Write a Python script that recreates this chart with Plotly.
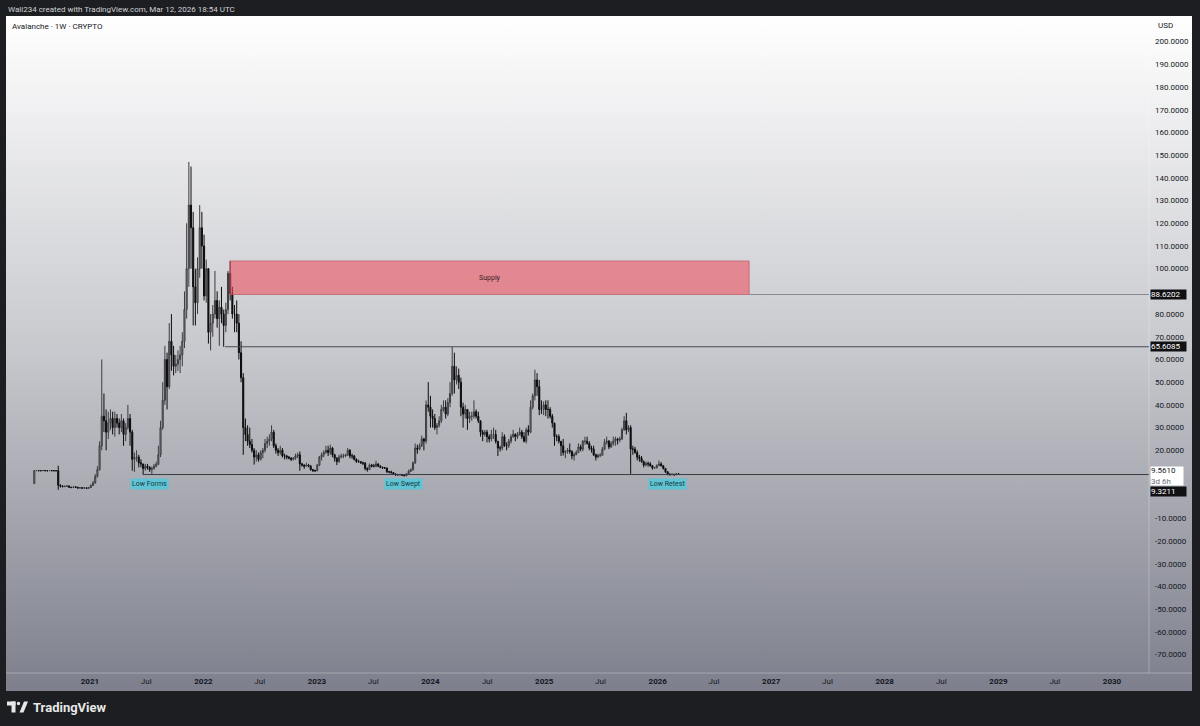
import base64
import plotly.graph_objects as go
import pandas as pd

# weekly candles (Monday opens), AVAX, first bar 2020-07-06
first_week = "2020-07-06"
first_open = 5.3

closes = [
    11.0, 11.1, 11.0, 11.0,                 # 2020 Jul
    11.1, 11.0, 11.0, 11.1, 11.0,           # Aug
    11.0, 11.0, 4.6, 4.2,                   # Sep
    4.0, 4.1, 4.3, 3.7,                     # Oct
    3.6, 3.9, 3.7, 3.4, 3.5,                # Nov
    3.3, 3.5, 3.2, 3.6,                     # Dec
    4.5, 5.6, 8.5, 11.5,                    # 2021 Jan
    22.0, 35.0, 33.0, 28.0,                 # Feb
    32.0, 34.0, 30.0, 34.0, 32.0,           # Mar
    30.0, 33.0, 27.0, 30.0,                 # Apr
    34.0, 28.0, 16.0, 17.0, 17.0,           # May
    14.5, 14.0, 12.0, 13.0,                 # Jun
    12.5, 11.5, 12.0, 13.0,                 # Jul
    13.8, 18.0, 30.0, 42.0, 60.0,           # Aug
    48.0, 68.0, 62.0, 57.0,                 # Sep
    58.0, 60.0, 62.0, 68.0,                 # Oct
    82.0, 100.0, 128.0, 118.0, 92.0,        # Nov
    85.0, 100.0, 118.0, 110.0,              # Dec
    88.0, 100.0, 72.0, 76.0, 80.0,          # 2022 Jan
    86.0, 78.0, 83.0, 80.0,                 # Feb
    75.0, 82.0, 98.0, 89.0,                 # Mar
    80.0, 80.0, 76.0, 63.0,                 # Apr
    52.0, 30.0, 27.0, 24.0, 22.5,           # May
    20.0, 17.0, 18.0, 16.0,                 # Jun
    19.0, 20.0, 23.0, 24.0,                 # Jul
    25.0, 28.0, 22.0, 20.0, 19.0,           # Aug
    20.0, 17.5, 17.5, 17.0,                 # Sep
    16.5, 16.0, 16.5, 17.5, 18.0,           # Oct
    14.0, 13.5, 13.0, 13.5,                 # Nov
    13.0, 11.5, 11.0, 11.0,                 # Dec
    13.5, 17.0, 18.0, 19.0, 20.0,           # 2023 Jan
    19.0, 21.0, 18.0, 16.5,                 # Feb
    15.0, 17.0, 17.5, 17.5,                 # Mar
    18.0, 20.0, 17.5, 17.5,                 # Apr
    16.0, 15.0, 15.0, 14.5, 14.3,           # May
    12.0, 11.5, 13.5, 13.0,                 # Jun
    13.0, 14.0, 13.0, 12.5, 12.2,           # Jul
    12.2, 10.6, 10.5, 10.2,                 # Aug
    9.6, 9.3, 9.2, 9.3,                     # Sep
    9.0, 8.8, 9.6, 10.8, 11.5,              # Oct
    14.5, 21.0, 20.5, 22.0,                 # Nov
    25.0, 24.0, 40.0, 39.0,                 # Dec
    35.0, 34.0, 30.0, 31.0, 33.0,           # 2024 Jan
    38.0, 39.0, 36.0, 41.0,                 # Feb
    45.0, 57.0, 51.0, 53.0,                 # Mar
    50.0, 39.0, 36.0, 38.0, 34.0,           # Apr
    35.0, 35.0, 37.0, 35.0,                 # May
    33.0, 28.0, 27.0, 28.0,                 # Jun
    26.0, 25.0, 27.0, 27.0, 24.0,           # Jul
    21.0, 21.0, 26.0, 22.0,                 # Aug
    22.0, 24.0, 26.0, 27.0, 26.0,           # Sep
    27.0, 28.0, 26.0, 24.0,                 # Oct
    29.0, 28.0, 39.0, 44.0,                 # Nov
    51.0, 48.0, 38.0, 38.0, 40.0,           # Dec
    38.0, 38.0, 35.0, 32.0,                 # 2025 Jan
    26.0, 26.0, 24.0, 22.0,                 # Feb
    19.0, 19.5, 20.0, 19.5, 17.5,           # Mar
    18.0, 19.0, 21.5, 20.5,                 # Apr
    24.0, 24.0, 23.0, 21.0,                 # May
    20.5, 18.0, 17.0, 17.8, 17.8,           # Jun
    20.5, 23.5, 24.0, 21.5,                 # Jul
    23.0, 24.0, 25.0, 24.5,                 # Aug
    25.0, 29.0, 33.0, 29.0, 30.0,           # Sep
    20.5, 20.5, 19.0, 17.0,                 # Oct
    16.5, 15.0, 13.5, 14.2,                 # Nov
    14.0, 13.2, 12.2, 12.3, 13.3,           # Dec
    14.0, 13.2, 12.0, 10.5,                 # 2026 Jan
    9.5, 9.3, 9.4, 9.2,                     # Feb
    9.6, 9.561,                             # Mar
]

highs = [
    11.2, 11.3, 11.2, 11.2,
    11.3, 11.2, 11.2, 11.3, 11.2,
    11.2, 11.2, 13.2, 5.0,
    4.6, 4.5, 4.6, 4.4,
    3.9, 4.2, 4.1, 3.9, 3.8,
    3.7, 3.8, 3.6, 3.8,
    5.0, 6.5, 9.5, 13.0,
    24.0, 60.0, 45.0, 38.0,
    37.0, 38.0, 37.0, 37.0, 36.0,
    34.0, 36.0, 34.0, 32.0,
    40.0, 36.0, 29.0, 19.0, 20.0,
    18.0, 16.0, 14.0, 14.0,
    14.0, 13.0, 12.8, 14.0,
    15.0, 22.0, 33.0, 50.0, 66.0,
    63.0, 76.0, 80.0, 66.0,
    62.0, 64.0, 66.0, 72.0,
    90.0, 120.0, 147.0, 145.0, 125.0,
    100.0, 105.0, 128.0, 125.0,
    115.0, 104.0, 98.0, 80.0, 84.0,
    99.0, 90.0, 86.0, 92.0,
    82.0, 85.0, 99.0, 103.4,
    92.0, 84.0, 86.0, 80.0,
    68.0, 54.0, 34.0, 31.0, 30.0,
    25.0, 21.0, 20.0, 19.0,
    20.0, 21.0, 25.0, 26.0,
    27.0, 31.0, 29.0, 23.0, 21.0,
    22.0, 21.0, 18.5, 18.0,
    17.5, 17.0, 17.0, 18.5, 19.0,
    19.5, 14.5, 13.8, 14.5,
    14.0, 13.5, 11.8, 11.5,
    14.0, 17.5, 19.0, 20.0, 22.0,
    22.0, 22.5, 21.5, 18.5,
    17.0, 18.0, 18.5, 18.5,
    18.5, 21.0, 20.5, 18.5,
    18.0, 16.5, 15.8, 15.2, 15.0,
    14.8, 12.5, 14.2, 14.0,
    14.0, 15.4, 14.2, 13.4, 12.8,
    12.7, 12.4, 10.9, 11.0,
    10.2, 9.8, 9.6, 9.7,
    9.6, 9.2, 9.9, 11.5, 12.0,
    15.0, 23.0, 22.5, 23.0,
    26.5, 25.5, 42.0, 50.0,
    44.0, 38.0, 36.0, 32.0, 35.0,
    40.0, 42.0, 42.0, 43.0,
    50.0, 65.5, 63.0, 57.0,
    56.0, 52.0, 41.0, 40.0, 38.0,
    37.0, 37.0, 42.0, 38.0,
    37.0, 33.0, 29.0, 29.0,
    29.0, 27.0, 29.0, 30.0, 29.0,
    24.0, 22.0, 28.0, 27.0,
    23.5, 25.0, 27.0, 29.0, 27.5,
    28.0, 30.0, 29.0, 28.0,
    30.0, 31.0, 42.0, 45.0,
    55.5, 54.0, 51.0, 42.0, 41.5,
    42.0, 42.0, 39.0, 36.0,
    28.0, 27.0, 27.0, 24.0,
    25.0, 20.0, 21.0, 23.0, 20.0,
    19.0, 20.0, 23.0, 22.5,
    24.5, 26.0, 26.0, 24.0,
    22.0, 22.0, 18.5, 18.5, 18.7,
    21.5, 25.0, 26.0, 24.5,
    24.0, 26.0, 26.0, 25.5,
    26.0, 30.0, 35.0, 36.5, 31.0,
    31.0, 22.0, 21.5, 20.0,
    18.0, 17.5, 15.5, 15.0,
    15.0, 14.8, 13.4, 12.7, 13.8,
    15.5, 14.8, 13.5, 12.2,
    10.8, 9.9, 9.8, 9.7,
    10.0, 9.8,
]

lows = [
    5.3, 10.9, 10.8, 10.9,
    10.9, 10.8, 10.8, 10.9, 10.8,
    10.8, 10.8, 2.6, 3.6,
    3.7, 3.8, 3.9, 3.5,
    3.3, 3.5, 3.4, 3.1, 3.2,
    3.1, 3.2, 2.9, 3.1,
    3.4, 4.3, 5.3, 8.0,
    11.0, 20.0, 28.0, 20.0,
    25.0, 29.0, 27.0, 26.0, 30.0,
    27.0, 28.0, 22.0, 24.0,
    29.0, 22.0, 11.0, 10.5, 15.0,
    12.5, 12.5, 9.5, 11.0,
    11.5, 10.5, 9.4, 11.5,
    12.5, 13.5, 17.0, 29.0, 40.0,
    38.0, 47.0, 55.0, 53.0,
    54.0, 55.0, 54.0, 57.0,
    65.0, 78.0, 92.0, 100.0, 75.0,
    75.0, 80.0, 96.0, 100.0,
    86.0, 85.0, 67.0, 64.0, 70.0,
    78.0, 74.0, 66.0, 76.0,
    65.6, 72.0, 80.0, 86.0,
    78.0, 72.0, 72.0, 60.0,
    50.0, 18.0, 24.0, 22.0, 21.0,
    19.0, 13.7, 15.0, 15.0,
    15.5, 16.5, 19.0, 21.0,
    22.0, 24.0, 21.0, 18.5, 17.5,
    18.0, 16.8, 16.0, 16.0,
    16.0, 15.3, 15.5, 15.8, 16.5,
    11.0, 12.8, 11.8, 12.8,
    12.5, 11.0, 10.5, 10.5,
    10.8, 13.0, 15.5, 17.0, 18.5,
    17.5, 18.0, 17.0, 15.0,
    13.5, 14.5, 16.5, 16.5,
    17.0, 17.5, 16.5, 16.2,
    15.5, 14.5, 14.5, 14.0, 13.5,
    11.2, 10.6, 11.3, 12.5,
    12.5, 12.5, 12.6, 12.1, 11.8,
    11.8, 10.0, 9.8, 9.7,
    9.2, 8.7, 8.8, 8.9,
    8.7, 8.6, 8.6, 9.4, 10.4,
    11.0, 14.0, 18.5, 20.0,
    21.5, 20.0, 23.0, 37.0,
    30.0, 30.0, 29.0, 27.0, 30.0,
    32.0, 37.0, 34.0, 35.0,
    39.0, 44.0, 45.0, 49.0,
    47.0, 35.0, 30.0, 34.0, 29.0,
    32.0, 33.0, 34.0, 34.0,
    32.0, 26.0, 24.0, 26.0,
    23.5, 23.5, 24.0, 25.0, 23.0,
    17.5, 19.5, 20.0, 21.5,
    20.0, 21.0, 23.0, 25.5, 24.0,
    25.0, 26.5, 25.0, 23.5,
    23.0, 26.5, 27.5, 38.0,
    42.0, 44.0, 35.5, 36.0, 35.5,
    35.0, 34.0, 34.0, 30.0,
    22.0, 24.0, 23.0, 17.5,
    17.7, 16.5, 18.5, 18.5, 16.0,
    15.5, 18.0, 19.0, 19.6,
    19.5, 22.5, 22.5, 20.0,
    19.0, 17.5, 15.5, 16.5, 17.0,
    17.7, 20.0, 22.5, 20.5,
    21.0, 22.0, 22.0, 22.5,
    23.5, 24.5, 28.5, 27.0, 28.0,
    9.6, 18.0, 18.5, 15.5,
    15.0, 14.5, 12.5, 13.0,
    12.8, 12.8, 11.5, 11.8, 12.0,
    13.0, 12.8, 11.5, 10.0,
    9.0, 8.8, 9.0, 8.9,
    9.1, 9.3,
]

# drawings
supply_low, supply_high = 88.6202, 103.4
supply_start, supply_end = "2022-03-27", "2026-10-22"
level_mid = 65.6085
level_mid_start = "2022-03-11"
level_low = 9.3211
level_low_start = "2021-06-20"
last_price = 9.5610
low_notes = [("2021-07-10", "Low Forms"), ("2023-10-05", "Low Swept"), ("2026-01-31", "Low Retest")]

price_ticks = [200, 190, 180, 170, 160, 150, 140, 130, 120, 110, 100, 80, 70, 60, 50,
               40, 30, 20, -10, -20, -30, -40, -50, -60, -70]
time_ticks = ["2021-01-01", "2021-07-01", "2022-01-01", "2022-07-01", "2023-01-01", "2023-07-01",
              "2024-01-01", "2024-07-01", "2025-01-01", "2025-07-01", "2026-01-01", "2026-07-01",
              "2027-01-01", "2027-07-01", "2028-01-01", "2028-07-01", "2029-01-01", "2029-07-01",
              "2030-01-01"]
time_labels = ["2021", "Jul", "2022", "Jul", "2023", "Jul", "2024", "Jul", "2025", "Jul",
               "2026", "Jul", "2027", "Jul", "2028", "Jul", "2029", "Jul", "2030"]

dates = pd.date_range(first_week, periods=len(closes), freq="7D")
opens = [first_open] + closes[:-1]

# plot area in pixels: x 6..1149, y 16..673
L, R, T, B = 6, 1149, 16, 673
W, H = 1200, 726


def px(x):
    return (x - L) / (R - L)


def py(y):
    return (B - y) / (B - T)


FONT = "Roboto, Arial, sans-serif"
DARK = "#131722"

fig = go.Figure()

fig.add_trace(go.Candlestick(
    x=dates, open=opens, high=highs, low=lows, close=closes,
    increasing=dict(line=dict(color="#3c3c40", width=1), fillcolor="#8e8f95"),
    decreasing=dict(line=dict(color="#0c0c0c", width=1), fillcolor="#0c0c0c"),
    whiskerwidth=0, showlegend=False, hoverinfo="skip",
))

# background gradient of the chart panel
svg = ('<svg xmlns="http://www.w3.org/2000/svg" width="10" height="100" viewBox="0 0 10 100" '
       'preserveAspectRatio="none"><defs><linearGradient id="g" x1="0" y1="0" x2="0" y2="1">'
       '<stop offset="0" stop-color="#ffffff"/><stop offset="0.5" stop-color="#c7c8cd"/>'
       '<stop offset="1" stop-color="#7d7f8c"/></linearGradient></defs>'
       '<rect width="10" height="100" fill="url(#g)"/></svg>')
src = "data:image/svg+xml;base64," + base64.b64encode(svg.encode()).decode()
fig.add_layout_image(dict(
    source=src, xref="paper", yref="paper", x=0, y=1,
    sizex=px(1192), sizey=(691 - T) / (B - T), xanchor="left", yanchor="top",
    sizing="stretch", layer="below",
))

shapes = []
# supply zone
shapes.append(dict(type="rect", xref="x", yref="y", x0=supply_start, x1=supply_end,
                   y0=supply_low, y1=supply_high, fillcolor="rgba(238,72,88,0.55)",
                   line=dict(color="rgba(190,90,100,0.7)", width=1), layer="above"))
shapes.append(dict(type="line", xref="x", yref="y", x0=supply_end, x1="2030-04-30",
                   y0=supply_low, y1=supply_low, line=dict(color="#8a8b92", width=1)))
shapes.append(dict(type="line", xref="x", yref="y", x0=level_mid_start, x1="2030-04-30",
                   y0=level_mid, y1=level_mid, line=dict(color="#4a4b52", width=1)))
shapes.append(dict(type="line", xref="x", yref="y", x0=level_low_start, x1="2030-04-30",
                   y0=level_low, y1=level_low, line=dict(color="#3a3b42", width=1)))
# axis separators
shapes.append(dict(type="line", xref="paper", yref="paper", x0=1, x1=1, y0=0, y1=1,
                   line=dict(color="rgba(255,255,255,0.28)", width=1)))
shapes.append(dict(type="line", xref="paper", yref="paper", x0=0, x1=px(1192), y0=0, y1=0,
                   line=dict(color="rgba(255,255,255,0.28)", width=1)))
# TradingView logo mark
shapes.append(dict(type="rect", xref="paper", yref="paper", x0=px(7), x1=px(15.5),
                   y0=py(705.5), y1=py(701.5), fillcolor="#e8e8e8", line=dict(width=0)))
shapes.append(dict(type="rect", xref="paper", yref="paper", x0=px(11.5), x1=px(15.5),
                   y0=py(712.5), y1=py(701.5), fillcolor="#e8e8e8", line=dict(width=0)))
shapes.append(dict(type="circle", xref="paper", yref="paper", x0=px(16.8), x1=px(20.2),
                   y0=py(705.2), y1=py(701.8), fillcolor="#e8e8e8", line=dict(width=0)))
shapes.append(dict(type="path", xref="paper", yref="paper",
                   path=f"M {px(19.5)},{py(712.5)} L {px(23.5)},{py(712.5)} L {px(28)},{py(701.5)} "
                        f"L {px(24)},{py(701.5)} Z",
                   fillcolor="#e8e8e8", line=dict(width=0)))

ann = []
ann.append(dict(xref="paper", yref="paper", x=0, y=py(9), xanchor="left", yanchor="middle",
                text="Wali234 created with TradingView.com, Mar 12, 2026 18:54 UTC",
                showarrow=False, font=dict(family=FONT, size=8, color="#cfd1d6")))
ann.append(dict(xref="paper", yref="paper", x=px(10), y=py(26), xanchor="left", yanchor="middle",
                text="Avalanche · 1W · CRYPTO", showarrow=False,
                font=dict(family=FONT, size=8, color=DARK)))
ann.append(dict(xref="paper", yref="paper", x=px(1156), y=py(25), xanchor="left", yanchor="middle",
                text="USD", showarrow=False, font=dict(family=FONT, size=8, color=DARK)))
ann.append(dict(xref="x", yref="y", x="2024-07-10", y=(supply_low + supply_high) / 2,
                text="Supply", showarrow=False, font=dict(family=FONT, size=7, color="#3a2226")))
for d, label in low_notes:
    ann.append(dict(xref="x", yref="y", x=d, y=5.15, text=label, showarrow=False,
                    bgcolor="#5fc4d4", borderpad=1,
                    font=dict(family=FONT, size=7, color="#173841")))
# price scale labels
for val, txt in [(supply_low, "88.6202"), (level_mid, "65.6085")]:
    ann.append(dict(xref="paper", yref="y", x=px(1150), y=val, xanchor="left", yanchor="middle",
                    text=txt, showarrow=False, bgcolor="#111114", width=35, height=9,
                    align="left", borderpad=0, font=dict(family=FONT, size=8, color="#ffffff")))
ann.append(dict(xref="paper", yref="paper", x=px(1150), y=py(466), xanchor="left", yanchor="top",
                text=f"{last_price:.4f}<br><span style='color:#6a6d78'>3d 6h</span>",
                showarrow=False, bgcolor="#ffffff", width=32, height=18, align="left",
                borderpad=0, font=dict(family=FONT, size=8, color=DARK)))
ann.append(dict(xref="paper", yref="paper", x=px(1150), y=py(491), xanchor="left", yanchor="middle",
                text=f"{level_low:.4f}", showarrow=False, bgcolor="#111114", width=35, height=9,
                align="left", borderpad=0, font=dict(family=FONT, size=8, color="#ffffff")))
ann.append(dict(xref="paper", yref="paper", x=px(31), y=py(707.5), xanchor="left", yanchor="middle",
                text="<b>TradingView</b>", showarrow=False,
                font=dict(family=FONT, size=13, color="#e8e8e8")))

fig.update_layout(
    width=W, height=H,
    margin=dict(l=L, r=W - R, t=T, b=H - B),
    paper_bgcolor="#1d1e21",
    plot_bgcolor="rgba(0,0,0,0)",
    shapes=shapes,
    annotations=ann,
    showlegend=False,
    xaxis=dict(
        type="date", range=["2020-04-06", "2030-04-30"], rangeslider=dict(visible=False),
        showgrid=False, zeroline=False, showline=False, ticks="",
        tickvals=time_ticks,
        ticktext=[t if t == "Jul" else f"<b>{t}</b>" for t in time_labels],
        tickfont=dict(family=FONT, size=8, color=DARK), ticklabelstandoff=2,
        fixedrange=True,
    ),
    yaxis=dict(
        side="right", range=[-78.1, 211.3], showgrid=False, zeroline=False, showline=False,
        ticks="", tickvals=price_ticks, ticktext=[f"{v:.4f}" for v in price_ticks],
        tickfont=dict(family=FONT, size=8, color=DARK), ticklabelstandoff=5,
        fixedrange=True,
    ),
)

fig.write_html("out.html", config={"displayModeBar": False},
               post_script="document.body.style.margin='0';document.body.style.overflow='hidden';")
